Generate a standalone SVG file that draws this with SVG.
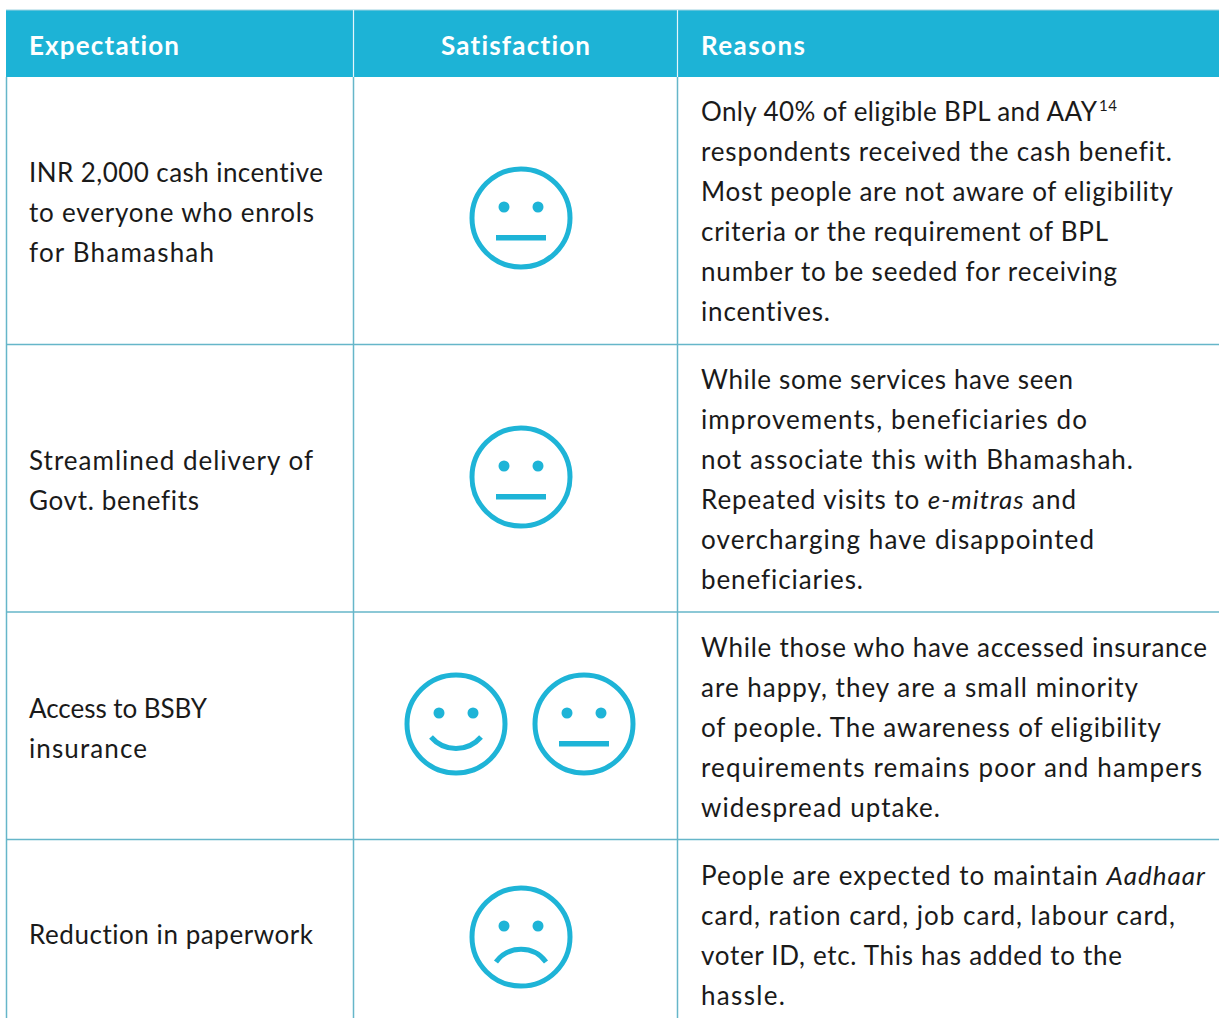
<svg xmlns="http://www.w3.org/2000/svg" width="1219" height="1018" viewBox="0 0 1219 1018">
<style>
.hd{font-family:Lato,"Liberation Sans",sans-serif;font-weight:bold;font-size:26px;fill:#ffffff;font-variant-ligatures:none}
.tx{font-family:Lato,"Liberation Sans",sans-serif;font-size:26px;fill:#1a1a1a;font-variant-ligatures:none}
.it{font-style:italic}
.sup{font-family:Lato,"Liberation Sans",sans-serif;font-size:15px;fill:#1a1a1a}
.grid{stroke:#66b6c9;stroke-width:1.5;fill:none}
.face{fill:none;stroke:#1eb4d7;stroke-width:5}
.feat{fill:#1eb4d7}
.mouth{fill:none;stroke:#1eb4d7;stroke-width:5}
</style>
<defs>
<g id="neutral">
<circle class="face" cx="0" cy="0" r="49"/>
<circle class="feat" cx="-17" cy="-11" r="5.5"/>
<circle class="feat" cx="17" cy="-11" r="5.5"/>
<rect class="feat" x="-25" y="17" width="50" height="5.5"/>
</g>
<g id="happy">
<circle class="face" cx="0" cy="0" r="49"/>
<circle class="feat" cx="-17" cy="-11" r="5.5"/>
<circle class="feat" cx="17" cy="-11" r="5.5"/>
<path class="mouth" d="M -25 13 A 33 33 0 0 0 25 13"/>
</g>
<g id="sad">
<circle class="face" cx="0" cy="0" r="49"/>
<circle class="feat" cx="-17" cy="-11" r="5.5"/>
<circle class="feat" cx="17" cy="-11" r="5.5"/>
<path class="mouth" d="M -25 25 A 31 31 0 0 1 25 25"/>
</g>
</defs>
<rect width="1219" height="1018" fill="#ffffff"/>
<g id="header">
<rect x="6" y="10" width="1213" height="67" fill="#1db3d6"/>
<line x1="6" y1="10" x2="1219" y2="10" stroke="#9fd3e0" stroke-width="1"/>
<line x1="353.5" y1="10" x2="353.5" y2="77" stroke="#e6f6fa" stroke-width="1.2"/>
<line x1="677.5" y1="10" x2="677.5" y2="77" stroke="#e6f6fa" stroke-width="1.2"/>
<text class="hd" x="29" y="55" textLength="150">Expectation</text>
<text class="hd" x="441" y="55" textLength="149">Satisfaction</text>
<text class="hd" x="701" y="55" textLength="104">Reasons</text>
</g>
<g id="connectors">
<line class="grid" x1="6.5" y1="77" x2="6.5" y2="1018"/>
<line class="grid" x1="353.5" y1="77" x2="353.5" y2="1018"/>
<line class="grid" x1="677.5" y1="77" x2="677.5" y2="1018"/>
<line class="grid" x1="6" y1="344.5" x2="1219" y2="344.5"/>
<line class="grid" x1="6" y1="612" x2="1219" y2="612"/>
<line class="grid" x1="6" y1="839.5" x2="1219" y2="839.5"/>
</g>
<g id="row1">
<text class="tx" x="29" y="182" textLength="294">INR 2,000 cash incentive</text>
<text class="tx" x="29" y="222" textLength="285">to everyone who enrols</text>
<text class="tx" x="29" y="262" textLength="185">for Bhamashah</text>
<use href="#neutral" x="521" y="218"/>
<text class="tx" x="701" y="121" textLength="396">Only 40% of eligible BPL and AAY</text>
<text class="sup" x="1099" y="111" textLength="18">14</text>
<text class="tx" x="701" y="161" textLength="471">respondents received the cash benefit.</text>
<text class="tx" x="701" y="201" textLength="472">Most people are not aware of eligibility</text>
<text class="tx" x="701" y="241" textLength="407">criteria or the requirement of BPL</text>
<text class="tx" x="701" y="281" textLength="416">number to be seeded for receiving</text>
<text class="tx" x="701" y="321" textLength="129">incentives.</text>
</g>
<g id="row2">
<text class="tx" x="29" y="470" textLength="284">Streamlined delivery of</text>
<text class="tx" x="29" y="510" textLength="170">Govt. benefits</text>
<use href="#neutral" x="521" y="477"/>
<text class="tx" x="701" y="389" textLength="372">While some services have seen</text>
<text class="tx" x="701" y="429" textLength="386">improvements, beneficiaries do</text>
<text class="tx" x="701" y="469" textLength="432">not associate this with Bhamashah.</text>
<text class="tx" x="701" y="509" textLength="375">Repeated visits to <tspan class="it">e-mitras</tspan> and</text>
<text class="tx" x="701" y="549" textLength="393">overcharging have disappointed</text>
<text class="tx" x="701" y="589" textLength="162">beneficiaries.</text>
</g>
<g id="row3">
<text class="tx" x="29" y="718" textLength="178">Access to BSBY</text>
<text class="tx" x="29" y="758" textLength="118">insurance</text>
<use href="#happy" x="456" y="724"/>
<use href="#neutral" x="584" y="724"/>
<text class="tx" x="701" y="657" textLength="506">While those who have accessed insurance</text>
<text class="tx" x="701" y="697" textLength="437">are happy, they are a small minority</text>
<text class="tx" x="701" y="737" textLength="460">of people. The awareness of eligibility</text>
<text class="tx" x="701" y="777" textLength="501">requirements remains poor and hampers</text>
<text class="tx" x="701" y="817" textLength="239">widespread uptake.</text>
</g>
<g id="row4">
<text class="tx" x="29" y="944" textLength="284">Reduction in paperwork</text>
<use href="#sad" x="521" y="937"/>
<text class="tx" x="701" y="885" textLength="504">People are expected to maintain <tspan class="it">Aadhaar</tspan></text>
<text class="tx" x="701" y="925" textLength="474">card, ration card, job card, labour card,</text>
<text class="tx" x="701" y="965" textLength="421">voter ID, etc. This has added to the</text>
<text class="tx" x="701" y="1005" textLength="84">hassle.</text>
</g>
</svg>
